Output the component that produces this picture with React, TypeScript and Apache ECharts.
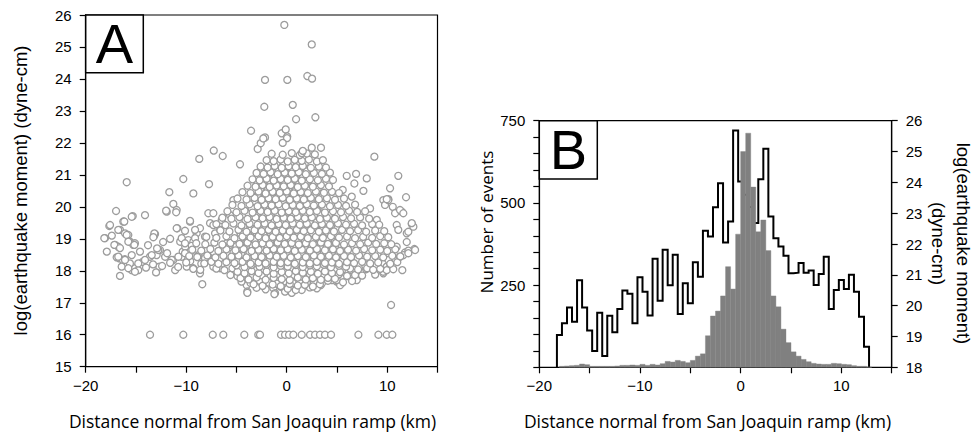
import React, { useEffect, useRef } from "react";
import * as echarts from "echarts";

// ---------- Panel A: scatter (distance km, log moment) ----------
const outliers: number[][] = [
  [-0.24, 25.69], [2.49, 25.08], [2.05, 24.09], [2.52, 24.01], [-2.16, 23.97], [0.06, 23.97],
  [-2.23, 23.13], [0.6, 23.19], [0.93, 22.74], [2.85, 22.8], [-3.55, 22.38], [-2.16, 22.17],
  [-0.5, 22.3], [-0.1, 22.42], [0.05, 22.2], [2.49, 21.85], [8.72, 21.57], [11.1, 20.97],
  [11.87, 20.3], [-7.26, 21.76], [-6.37, 21.59], [-8.7, 21.5], [-4.65, 21.33], [-10.29, 20.87],
  [-7.73, 20.71], [-15.92, 20.77], [-11.68, 20.46], [-9.29, 20.42], [5.97, 20.97], [6.9, 21.03],
  [7.96, 20.89], [6.73, 20.73], [7.63, 20.5], [10.28, 20.58], [9.95, 20.24], [-2.89, 21.81],
  [-2.59, 21.99], [-2.33, 22.14], [0.03, 22.15], [3.41, 21.85], [1.49, 21.68], [-0.4, 22.0], [1.6, 21.75],
];

const rowSixteen: number[][] = [
  [-13.6, 16], [-10.29, 16], [-7.36, 16], [-6.31, 16], [-4.22, 16], [-2.83, 16], [-2.66, 16],
  [-0.57, 16], [-0.17, 16], [0.23, 16], [0.66, 16], [1.49, 16], [2.32, 16], [2.82, 16],
  [3.31, 16], [3.81, 16], [4.41, 16], [7.13, 16], [9.12, 16], [9.95, 16], [10.51, 16], [10.38, 16.93],
];

const leftTail: number[][] = [
  [-18.08, 19.02], [-17.65, 19.4], [-16.98, 19.87], [-17.08, 18.81], [-16.75, 18.75], [-16.59, 19.28],
  [-16.26, 19.54], [-16.92, 18.42], [-16.66, 18.39], [-16.3, 18.34], [-16.1, 18.36], [-16.59, 17.84],
  [-16.09, 19.17], [-15.76, 19.12], [-15.32, 19.71], [-15.6, 18.91], [-15.26, 18.81], [-15.1, 18.86],
  [-15.42, 18.02], [-15.1, 18.08], [-14.77, 18.02], [-15.92, 18.18], [-15.6, 18.23], [-14.1, 19.74],
  [-14.33, 18.28], [-13.6, 18.44], [-13.1, 19.15], [-13.2, 19.09], [-12.94, 18.49], [-12.61, 18.65],
  [-12.68, 18.13], [-11.94, 19.85], [-11.28, 20.09], [-11.28, 18.34], [-11.1, 18.02], [-10.95, 19.9],
  [-10.88, 19.33], [-10.45, 18.44], [-10.35, 18.6], [-10.6, 18.91], [-10.1, 18.75], [-9.62, 19.54],
  [-9.79, 18.96], [-9.29, 18.91], [-9.45, 18.78], [-9.95, 18.13], [-9.29, 18.08], [-8.96, 19.17],
  [-8.63, 19.33], [-8.63, 17.92], [-8.4, 17.58], [-7.96, 18.34], [-7.8, 18.44], [-7.96, 18.65],
  [-7.8, 19.8], [-7.3, 19.8], [-7.63, 19.49], [-7.3, 19.43], [-7.13, 19.17], [-6.63, 19.28],
  [-7.3, 18.13], [-6.63, 18.08], [-6.47, 18.23], [-6.63, 18.39], [-6.47, 19.59], [-5.64, 19.74],
  [-5.31, 20.21], [-5.97, 18.86], [-5.64, 18.81], [-12.0, 19.88], [-11.0, 19.83], [-15.42, 19.69],
  [-17.58, 19.43], [-16.16, 19.54], [-16.76, 19.28], [-18.15, 19.02], [-17.15, 18.81], [-16.59, 18.71],
  [-15.92, 19.12], [-15.76, 18.91], [-15.16, 18.81], [-13.17, 19.17], [-13.27, 19.05], [-10.95, 19.33],
  [-10.12, 19.25], [-9.62, 19.56], [-9.12, 19.28], [-10.45, 19.02], [-10.12, 18.86], [-9.12, 19.02],
  [-8.13, 19.07], [-16.76, 18.44], [-16.09, 18.34], [-15.42, 18.49], [-14.77, 18.23], [-14.1, 18.34],
  [-13.43, 18.49], [-12.77, 18.65], [-12.1, 18.44], [-11.44, 18.34], [-10.78, 18.44], [-10.12, 18.55],
  [-9.45, 18.44], [-8.79, 18.49], [-8.13, 18.39], [-16.42, 18.13], [-15.76, 18.08], [-15.1, 17.97],
  [-13.3, 18.2], [-12.4, 18.15], [-11.6, 18.25], [-10.8, 18.12], [-9.6, 18.3], [-8.5, 18.22],
  [-14.0, 18.1], [-13.0, 17.95], [-17.9, 18.6], [-17.4, 19.1], [-14.6, 18.6], [-13.8, 18.8],
  [-12.3, 18.9], [-11.6, 19.0], [-12.9, 18.7], [-11.9, 18.55],
];

const rightTail: number[][] = [
  [12.44, 19.46], [11.94, 19.17], [12.1, 19.22], [12.7, 18.68], [11.77, 18.57], [12.1, 18.63],
  [11.27, 18.44], [5.57, 20.53], [6.47, 20.32], [8.29, 19.95], [7.9, 18.05], [8.29, 18.13],
  [9.61, 17.92], [9.95, 18.13], [9.61, 18.6], [10.11, 18.44], [10.94, 18.75], [4.98, 17.66],
  [5.31, 17.55], [6.3, 17.81], [6.97, 17.71], [10.55, 20.0], [10.78, 19.8], [11.44, 19.85],
  [9.61, 20.21], [10.11, 20.24], [10.28, 18.23], [10.11, 18.34], [11.6, 18.49], [12.1, 18.55],
  [12.77, 18.65], [12.6, 19.38], [11.27, 19.9], [11.6, 19.8], [10.94, 19.43], [11.1, 19.28],
  [9.78, 20.06], [10.11, 20.21], [8.96, 19.59], [7.96, 18.08], [7.79, 18.18], [9.61, 17.97],
  [9.95, 18.02], [12.44, 19.49], [11.94, 18.9],
];

const lowPoints: number[][] = [
  [-3.98, 17.55], [-3.92, 17.35], [-4.15, 18.02], [-3.82, 17.92], [-1.33, 17.45], [-1.16, 17.3],
  [-0.17, 17.35], [0.33, 17.45], [1.49, 17.45], [2.82, 17.55], [3.38, 17.55], [3.81, 17.71],
  [4.48, 17.71], [4.98, 17.71], [6.3, 17.81], [-3.92, 17.31], [-1.23, 17.27], [0.5, 17.31],
  [1.49, 17.4], [-5.31, 18.49], [-4.97, 18.55], [-5.14, 18.13], [-4.81, 18.02],
];

const coreLow: number[][] = [
  [-3.0, 17.47], [-2.1, 17.42], [-0.6, 17.5], [0.1, 17.44], [0.9, 17.4], [2.3, 17.48], [3.0, 17.45],
  [-4.5, 17.66], [-3.6, 17.62], [-2.7, 17.69], [-1.8, 17.63], [-1.0, 17.6], [-0.2, 17.67], [0.6, 17.62],
  [1.4, 17.68], [2.0, 17.63], [2.7, 17.66], [3.5, 17.61], [4.1, 17.69], [5.6, 17.64], [6.5, 17.68],
  [-5.6, 17.87], [-4.9, 17.83], [-4.2, 17.88], [-3.4, 17.82], [-2.5, 17.86], [-1.6, 17.84], [-0.9, 17.89],
  [-0.1, 17.83], [0.7, 17.87], [1.5, 17.82], [2.3, 17.88], [3.0, 17.84], [3.7, 17.86], [4.4, 17.83],
  [5.2, 17.89], [6.0, 17.84], [6.8, 17.87], [7.5, 17.85], [8.8, 17.88],
  [-9.3, 18.06], [-8.6, 18.03], [-7.0, 18.07], [-6.2, 18.02], [-5.4, 18.08], [-4.6, 18.04], [-3.9, 18.07],
  [-3.1, 18.02], [-2.4, 18.06], [-1.7, 18.03], [-0.9, 18.08], [-0.2, 18.04], [0.5, 18.06], [1.2, 18.02],
  [1.9, 18.07], [2.6, 18.04], [3.4, 18.08], [4.1, 18.03], [4.8, 18.06], [5.5, 18.02], [6.3, 18.07],
  [7.1, 18.04], [8.0, 18.08], [8.6, 18.03], [9.3, 18.06], [10.6, 18.05], [11.5, 18.02],
];

const coreMid: number[][] = [
  [-10.0, 18.26], [-8.2, 18.23], [-7.5, 18.28], [-6.8, 18.22], [-6.0, 18.27], [-5.2, 18.24], [-4.4, 18.28],
  [-3.6, 18.22], [-2.8, 18.26], [-2.1, 18.23], [-1.3, 18.28], [-0.6, 18.24], [0.1, 18.27], [0.8, 18.22],
  [1.6, 18.26], [2.3, 18.23], [3.0, 18.28], [3.8, 18.24], [4.5, 18.26], [5.2, 18.22], [6.0, 18.27],
  [6.7, 18.24], [7.5, 18.28], [8.3, 18.23], [9.1, 18.26], [10.3, 18.22], [11.0, 18.27],
  [-9.7, 18.46], [-8.9, 18.43], [-7.9, 18.48], [-7.1, 18.42], [-6.3, 18.47], [-5.5, 18.44], [-4.8, 18.48],
  [-4.0, 18.42], [-3.2, 18.46], [-2.5, 18.43], [-1.7, 18.48], [-1.0, 18.44], [-0.3, 18.47], [0.4, 18.42],
  [1.1, 18.46], [1.9, 18.43], [2.7, 18.48], [3.4, 18.44], [4.2, 18.47], [4.9, 18.42], [5.7, 18.46],
  [6.4, 18.43], [7.2, 18.48], [8.0, 18.44], [8.8, 18.46], [9.6, 18.42], [10.5, 18.47], [11.3, 18.45],
  [-9.4, 18.66], [-8.5, 18.63], [-7.6, 18.68], [-6.8, 18.62], [-6.0, 18.67], [-5.1, 18.64], [-4.3, 18.68],
  [-3.5, 18.62], [-2.8, 18.66], [-2.0, 18.63], [-1.3, 18.68], [-0.6, 18.64], [0.1, 18.67], [0.8, 18.62],
  [1.5, 18.66], [2.3, 18.63], [3.0, 18.68], [3.8, 18.64], [4.6, 18.67], [5.3, 18.62], [6.1, 18.66],
  [6.9, 18.63], [7.7, 18.68], [8.5, 18.64], [9.3, 18.66], [10.0, 18.62], [10.8, 18.67],
  [-9.0, 18.86], [-8.1, 18.83], [-7.2, 18.88], [-6.4, 18.82], [-5.6, 18.87], [-4.7, 18.84], [-3.9, 18.88],
  [-3.1, 18.82], [-2.4, 18.86], [-1.7, 18.83], [-0.9, 18.88], [-0.2, 18.84], [0.5, 18.87], [1.2, 18.82],
  [1.9, 18.86], [2.6, 18.83], [3.4, 18.88], [4.1, 18.84], [4.9, 18.87], [5.7, 18.82], [6.5, 18.86],
  [7.3, 18.83], [8.1, 18.88], [8.9, 18.84], [9.7, 18.86], [10.4, 18.83],
  [-8.0, 19.06], [-7.0, 19.03], [-6.0, 19.08], [-5.2, 19.02], [-4.4, 19.07], [-3.6, 19.04], [-2.8, 19.08],
  [-2.1, 19.02], [-1.4, 19.06], [-0.7, 19.03], [0.0, 19.08], [0.7, 19.04], [1.4, 19.07], [2.1, 19.02],
  [2.9, 19.06], [3.6, 19.03], [4.4, 19.08], [5.2, 19.04], [6.0, 19.07], [6.8, 19.02], [7.6, 19.06],
  [8.5, 19.03], [9.3, 19.08], [10.1, 19.05],
  [-6.6, 19.26], [-5.7, 19.23], [-4.8, 19.28], [-4.0, 19.22], [-3.2, 19.27], [-2.5, 19.24], [-1.8, 19.28],
  [-1.1, 19.22], [-0.4, 19.26], [0.3, 19.23], [1.0, 19.28], [1.7, 19.24], [2.4, 19.27], [3.2, 19.22],
  [3.9, 19.26], [4.7, 19.23], [5.5, 19.28], [6.3, 19.24], [7.1, 19.27], [7.9, 19.22], [8.8, 19.26], [9.7, 19.24],
];

const coreHigh: number[][] = [
  [-7.0, 19.46], [-6.1, 19.43], [-5.3, 19.48], [-4.5, 19.42], [-3.7, 19.47], [-2.9, 19.44], [-2.2, 19.48],
  [-1.5, 19.42], [-0.8, 19.46], [-0.1, 19.43], [0.6, 19.48], [1.3, 19.44], [2.0, 19.47], [2.8, 19.42],
  [3.5, 19.46], [4.3, 19.43], [5.1, 19.48], [5.9, 19.44], [6.7, 19.47], [7.5, 19.42], [8.5, 19.46], [9.2, 19.44],
  [-6.4, 19.66], [-5.5, 19.63], [-4.7, 19.68], [-3.9, 19.62], [-3.1, 19.67], [-2.4, 19.64], [-1.7, 19.68],
  [-1.0, 19.62], [-0.3, 19.66], [0.4, 19.63], [1.1, 19.68], [1.8, 19.64], [2.5, 19.67], [3.3, 19.62],
  [4.0, 19.66], [4.8, 19.63], [5.6, 19.68], [6.4, 19.64], [7.3, 19.67], [8.2, 19.63],
  [-5.9, 19.86], [-5.0, 19.83], [-4.2, 19.88], [-3.4, 19.82], [-2.6, 19.87], [-1.9, 19.84], [-1.2, 19.88],
  [-0.5, 19.82], [0.2, 19.86], [0.9, 19.83], [1.6, 19.88], [2.3, 19.84], [3.0, 19.87], [3.8, 19.82],
  [4.6, 19.86], [5.4, 19.83], [6.2, 19.88], [7.0, 19.84], [7.8, 19.86],
  [-5.4, 20.06], [-4.5, 20.03], [-3.7, 20.08], [-2.9, 20.02], [-2.2, 20.07], [-1.5, 20.04], [-0.8, 20.08],
  [-0.1, 20.02], [0.6, 20.06], [1.3, 20.03], [2.0, 20.08], [2.7, 20.04], [3.5, 20.07], [4.3, 20.02],
  [5.1, 20.06], [5.9, 20.03], [6.8, 20.07],
  [-4.9, 20.26], [-4.0, 20.23], [-3.2, 20.28], [-2.5, 20.22], [-1.8, 20.27], [-1.1, 20.24], [-0.4, 20.28],
  [0.3, 20.22], [1.0, 20.26], [1.7, 20.23], [2.4, 20.28], [3.2, 20.24], [4.0, 20.27], [4.8, 20.22], [5.7, 20.26],
  [-4.4, 20.46], [-3.6, 20.43], [-2.8, 20.48], [-2.1, 20.42], [-1.4, 20.47], [-0.7, 20.44], [0.0, 20.48],
  [0.7, 20.42], [1.4, 20.46], [2.1, 20.43], [2.9, 20.48], [3.7, 20.44], [4.5, 20.47], [5.2, 20.43],
  [-3.9, 20.66], [-3.1, 20.63], [-2.4, 20.68], [-1.7, 20.62], [-1.0, 20.67], [-0.3, 20.64], [0.4, 20.68],
  [1.1, 20.62], [1.8, 20.66], [2.6, 20.63], [3.4, 20.68], [4.2, 20.64],
  [-3.4, 20.86], [-2.7, 20.83], [-2.0, 20.88], [-1.3, 20.82], [-0.6, 20.87], [0.1, 20.84], [0.8, 20.88],
  [1.5, 20.82], [2.3, 20.86], [3.1, 20.83], [3.9, 20.88], [4.6, 20.84],
  [-3.0, 21.06], [-2.3, 21.03], [-1.6, 21.08], [-0.9, 21.02], [-0.2, 21.07], [0.5, 21.04], [1.2, 21.08],
  [1.9, 21.02], [2.7, 21.06], [3.5, 21.03], [4.3, 21.07],
  [-2.6, 21.26], [-1.9, 21.23], [-1.2, 21.28], [-0.5, 21.22], [0.2, 21.27], [0.9, 21.24], [1.6, 21.28],
  [2.4, 21.22], [3.2, 21.26], [3.9, 21.23],
  [-2.0, 21.46], [-1.3, 21.43], [-0.6, 21.48], [0.1, 21.42], [0.8, 21.47], [1.5, 21.44], [2.2, 21.48],
  [3.0, 21.42], [3.6, 21.46],
  [-1.5, 21.66], [-0.4, 21.63], [0.5, 21.68], [1.3, 21.62], [2.0, 21.67], [2.8, 21.64],
];

// extra events packed between the rows of the dense central cloud
const coreFill: number[][] = [
  [-3.3, 17.58], [-2.4, 17.53], [-1.4, 17.57], [-0.6, 17.52], [0.3, 17.59], [1.1, 17.54], [1.8, 17.56], [2.6, 17.51], [3.3, 17.58],
  [-4.6, 17.77], [-3.8, 17.73], [-3.0, 17.79], [-2.1, 17.72], [-1.3, 17.78], [-0.5, 17.74], [0.3, 17.71], [1.1, 17.79],
  [1.9, 17.73], [2.6, 17.77], [3.4, 17.72], [4.1, 17.78], [4.8, 17.75],
  [-4.9, 17.97], [-4.2, 17.92], [-3.5, 17.99], [-2.8, 17.93], [-2.0, 17.98], [-1.3, 17.91], [-0.5, 17.96], [0.2, 17.92],
  [0.9, 17.99], [1.6, 17.94], [2.4, 17.97], [3.1, 17.91], [3.8, 17.98], [4.5, 17.93], [5.3, 17.96],
  [-5.0, 18.17], [-4.2, 18.12], [-3.5, 18.18], [-2.7, 18.13], [-2.0, 18.19], [-1.3, 18.11], [-0.6, 18.16], [0.1, 18.13],
  [0.9, 18.18], [1.6, 18.12], [2.3, 18.17], [3.0, 18.14], [3.7, 18.19], [4.4, 18.11], [5.2, 18.16], [5.9, 18.13],
  [-5.5, 18.37], [-4.8, 18.32], [-4.0, 18.38], [-3.2, 18.33], [-2.4, 18.39], [-1.7, 18.31], [-0.9, 18.36], [-0.2, 18.33],
  [0.5, 18.38], [1.3, 18.32], [2.0, 18.37], [2.7, 18.34], [3.4, 18.39], [4.1, 18.31], [4.9, 18.36], [5.6, 18.33], [6.4, 18.37],
  [-5.3, 18.57], [-4.5, 18.52], [-3.7, 18.58], [-2.9, 18.53], [-2.2, 18.59], [-1.4, 18.51], [-0.7, 18.56], [0.0, 18.53],
  [0.8, 18.58], [1.5, 18.52], [2.2, 18.57], [3.0, 18.54], [3.7, 18.59], [4.5, 18.51], [5.2, 18.56], [6.0, 18.53],
  [-5.0, 18.77], [-4.2, 18.72], [-3.4, 18.78], [-2.6, 18.73], [-1.9, 18.79], [-1.2, 18.71], [-0.4, 18.76], [0.3, 18.73],
  [1.0, 18.78], [1.8, 18.72], [2.5, 18.77], [3.3, 18.74], [4.0, 18.79], [4.8, 18.71], [5.5, 18.76],
  [-4.8, 18.97], [-4.0, 18.92], [-3.2, 18.98], [-2.5, 18.93], [-1.8, 18.99], [-1.0, 18.91], [-0.3, 18.96], [0.4, 18.93],
  [1.1, 18.98], [1.8, 18.92], [2.6, 18.97], [3.3, 18.94], [4.1, 18.99], [4.8, 18.91],
  [-4.6, 19.17], [-3.8, 19.12], [-3.0, 19.18], [-2.3, 19.13], [-1.6, 19.19], [-0.9, 19.11], [-0.2, 19.16], [0.5, 19.13],
  [1.2, 19.18], [1.9, 19.12], [2.6, 19.17], [3.3, 19.14], [4.1, 19.19], [4.9, 19.11],
  [-4.3, 19.37], [-3.5, 19.32], [-2.8, 19.38], [-2.1, 19.33], [-1.4, 19.39], [-0.7, 19.31], [0.0, 19.36], [0.7, 19.33],
  [1.4, 19.38], [2.1, 19.32], [2.8, 19.37], [3.6, 19.34], [4.4, 19.39],
  [-4.1, 19.57], [-3.3, 19.52], [-2.6, 19.58], [-1.9, 19.53], [-1.2, 19.59], [-0.5, 19.51], [0.2, 19.56], [0.9, 19.53],
  [1.6, 19.58], [2.3, 19.52], [3.0, 19.57], [3.8, 19.54], [4.6, 19.59],
  [-3.8, 19.77], [-3.0, 19.72], [-2.3, 19.78], [-1.6, 19.73], [-0.9, 19.79], [-0.2, 19.71], [0.5, 19.76], [1.2, 19.73],
  [1.9, 19.78], [2.7, 19.72], [3.4, 19.77], [4.2, 19.74],
  [-3.5, 19.97], [-2.7, 19.92], [-2.0, 19.98], [-1.3, 19.93], [-0.6, 19.99], [0.1, 19.91], [0.8, 19.96], [1.5, 19.93],
  [2.2, 19.98], [3.0, 19.92], [3.8, 19.97],
  [-3.2, 20.17], [-2.5, 20.12], [-1.8, 20.18], [-1.1, 20.13], [-0.4, 20.19], [0.3, 20.11], [1.0, 20.16], [1.7, 20.13],
  [2.4, 20.18], [3.2, 20.12], [3.9, 20.17],
  [-2.9, 20.37], [-2.2, 20.32], [-1.5, 20.38], [-0.8, 20.33], [-0.1, 20.39], [0.6, 20.31], [1.3, 20.36], [2.0, 20.33],
  [2.7, 20.38], [3.5, 20.32],
  [-2.6, 20.57], [-1.9, 20.52], [-1.2, 20.58], [-0.5, 20.53], [0.2, 20.59], [0.9, 20.51], [1.6, 20.56], [2.3, 20.53], [3.1, 20.58],
  [-2.3, 20.77], [-1.6, 20.72], [-0.9, 20.78], [-0.2, 20.73], [0.5, 20.79], [1.2, 20.71], [1.9, 20.76], [2.7, 20.73],
  [-2.0, 20.97], [-1.2, 20.92], [-0.5, 20.98], [0.2, 20.93], [0.9, 20.99], [1.6, 20.91], [2.3, 20.96],
  [-1.6, 21.17], [-0.8, 21.12], [-0.1, 21.18], [0.6, 21.13], [1.3, 21.19], [2.0, 21.11],
  [-1.0, 21.37], [-0.3, 21.32], [0.4, 21.38], [1.1, 21.33], [1.8, 21.36],
];

// ---------- Panel B ----------
// gray histogram: number of events per 0.5 km bin, first bin starts at -18.0 km
const countBinStart = -18.0;
const countBinWidth = 0.5;
const eventCounts = [
  3, 4, 5, 6, 10, 8, 3, 3, 3, 3, 3, 4, 6, 6, 7, 6, 9, 6, 9, 7,
  11, 18, 16, 21, 18, 14, 21, 34, 41, 96, 156, 171, 217, 306, 238, 405, 656, 712, 548, 412,
  448, 355, 217, 184, 116, 75, 47, 34, 24, 17, 12, 10, 9, 9, 12, 11, 9, 8, 5, 3, 3, 1,
];

// step outline: max log(moment) per 0.5 km bin, first bin starts at -18.25 km
const momentBinStart = -18.25;
const momentBinWidth = 0.5;
const maxMoment = [
  19.05, 19.43, 19.94, 19.48, 20.82, 19.94, 19.19, 18.53, 19.77, 18.37, 19.67, 19.14, 19.89, 20.49,
  20.39, 19.43, 20.92, 20.45, 19.68, 21.52, 20.16, 21.81, 20.66, 21.65, 19.73, 20.73, 20.08, 21.41,
  20.94, 22.43, 22.24, 23.19, 23.97, 22.05, 22.73, 25.68, 24.03, 23.6, 23.2, 22.68, 24.1, 25.09,
  22.89, 22.19, 21.92, 21.62, 21.05, 21.07, 21.38, 21.07, 21.14, 20.67, 21.03, 21.59, 19.89, 20.51,
  20.83, 20.54, 21.0, 20.45, 19.64, 18.67,
];

const xTicksLabelled = [-20, -10, 0, 10];
const xTitle = "Distance normal from San Joaquin ramp (km)";
const yTitleA = "log(earthquake moment) (dyne-cm)";
const yTitleBLeft = "Number of events";
const yTitleBRight1 = "log(earthquake moment)";
const yTitleBRight2 = "(dyne-cm)";

const FONT = '"Liberation Sans", Arial, Helvetica, sans-serif';
const TFONT = '"Open Sans", "Noto Sans", sans-serif';

function fmtX(v: number) {
  if (!xTicksLabelled.includes(v)) return "";
  return v < 0 ? "\u2212" + Math.abs(v) : String(v);
}

export default function App() {
  const ref = useRef<HTMLDivElement>(null);
  useEffect(() => {
    if (!ref.current) return;
    const chart = echarts.init(ref.current, null, { renderer: "svg" });

    const scatterData = [
      ...rowSixteen, ...leftTail, ...rightTail, ...lowPoints,
      ...coreLow, ...coreFill, ...coreMid, ...coreHigh, ...outliers,
    ];

    const barData = eventCounts.map((c, i) => {
      const x0 = countBinStart + i * countBinWidth;
      return [x0, x0 + countBinWidth, c];
    });

    const stepData: number[][] = [[momentBinStart, 18]];
    maxMoment.forEach((v, i) => stepData.push([momentBinStart + i * momentBinWidth, v]));
    const endX = momentBinStart + maxMoment.length * momentBinWidth;
    stepData.push([endX, maxMoment[maxMoment.length - 1]]);
    stepData.push([endX, 18]);

    const axisLine = { show: true, onZero: false, lineStyle: { color: "#000", width: 1.2 } };
    const axisTick = { show: true, length: 6, inside: false, lineStyle: { color: "#000", width: 1.2 } };
    const labelBase = { color: "#000", fontSize: 15, fontFamily: FONT };

    const xAxisBase = {
      type: "value", min: -20, max: 15, interval: 5,
      axisLine, axisTick, splitLine: { show: false },
      axisLabel: { ...labelBase, margin: 11, formatter: fmtX },
    };

    const txt = (text: string, x: number, y: number, size: number, family: string, rotation = 0) => ({
      type: "text", z: 101, x, y, rotation,
      style: {
        text, fontSize: size, fontFamily: family, fill: "#000",
        align: "center", verticalAlign: "middle", textAlign: "center", textVerticalAlign: "middle",
      },
    });

    const option: any = {
      animation: false,
      grid: [
        { left: 85.7, top: 15, width: 351.8, height: 351.7, show: true, borderColor: "#000", borderWidth: 1.2, backgroundColor: "transparent" },
        { left: 539.3, top: 120.7, width: 352.4, height: 246.6, show: true, borderColor: "#000", borderWidth: 1.2, backgroundColor: "transparent" },
      ],
      xAxis: [
        { ...xAxisBase, gridIndex: 0 },
        { ...xAxisBase, gridIndex: 1 },
      ],
      yAxis: [
        {
          gridIndex: 0, type: "value", min: 15, max: 26, interval: 1,
          axisLine, axisTick, splitLine: { show: false },
          axisLabel: { ...labelBase, margin: 14 },
        },
        {
          gridIndex: 1, type: "value", min: 0, max: 750, interval: 50, position: "left",
          axisLine, axisTick, splitLine: { show: false },
          axisLabel: {
            ...labelBase, margin: 14,
            formatter: (v: number) => (v > 0 && v % 250 === 0 ? String(v) : ""),
          },
        },
        {
          gridIndex: 1, type: "value", min: 18, max: 26, interval: 1, position: "right",
          axisLine, axisTick, splitLine: { show: false },
          axisLabel: { ...labelBase, margin: 14 },
        },
      ],
      series: [
        {
          type: "scatter", xAxisIndex: 0, yAxisIndex: 0, data: scatterData,
          symbol: "circle", symbolSize: 7,
          itemStyle: { color: "#ffffff", borderColor: "#9c9c9c", borderWidth: 1.3, opacity: 1 },
          emphasis: { disabled: true }, z: 2,
        },
        {
          type: "line", xAxisIndex: 1, yAxisIndex: 2, data: stepData, step: "end",
          showSymbol: false, symbol: "none",
          lineStyle: { color: "#000", width: 2, join: "miter", cap: "butt" },
          emphasis: { disabled: true }, z: 2,
        },
        {
          type: "custom", xAxisIndex: 1, yAxisIndex: 1, data: barData,
          encode: { x: [0, 1], y: 2 }, clip: false, z: 3,
          renderItem: (params: any, api: any) => {
            const p0 = api.coord([api.value(0), api.value(2)]);
            const p1 = api.coord([api.value(1), 0]);
            return {
              type: "rect",
              shape: { x: p0[0], y: p0[1], width: p1[0] - p0[0], height: p1[1] - p0[1] },
              style: { fill: "#808080", stroke: "#808080", lineWidth: 0.4 },
            };
          },
        },
      ],
      graphic: [
        { type: "rect", z: 100, shape: { x: 85.7, y: 15, width: 57.6, height: 57.7 }, style: { fill: "#fff", stroke: "#000", lineWidth: 1.5 } },
        txt("A", 114.5, 43.8, 56, FONT),
        { type: "rect", z: 100, shape: { x: 539.3, y: 120.7, width: 58, height: 58.3 }, style: { fill: "#fff", stroke: "#000", lineWidth: 1.5 } },
        txt("B", 568.3, 149.6, 56, FONT),
        txt(yTitleA, 20.5, 190.5, 18.5, FONT, Math.PI / 2),
        txt(xTitle, 252.5, 420.5, 17.5, TFONT),
        txt(xTitle, 707.5, 420.5, 17.5, TFONT),
        txt(yTitleBLeft, 486, 222, 17, TFONT, Math.PI / 2),
        txt(yTitleBRight1, 963, 243.5, 18.5, FONT, -Math.PI / 2),
        txt(yTitleBRight2, 938, 243.5, 18.5, FONT, -Math.PI / 2),
      ],
    };

    chart.setOption(option);
    return () => chart.dispose();
  }, []);

  return (
    <div
      ref={ref}
      style={{ position: "absolute", left: 0, top: 0, width: 972, height: 432, background: "#fff" }}
    />
  );
}
